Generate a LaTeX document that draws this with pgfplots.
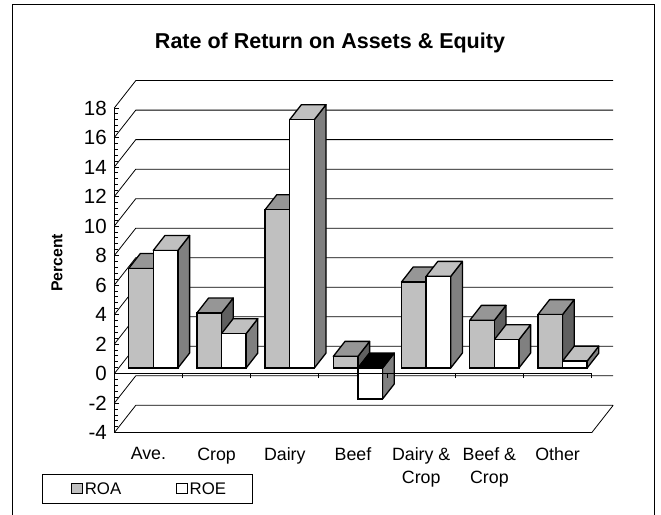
\documentclass[border=0pt]{standalone}
\usepackage{pgfplots}
\pgfplotsset{compat=1.18}
\usepackage{fontspec}
\setmainfont{Liberation Sans}
\definecolor{barg}{HTML}{C0C0C0}
\definecolor{topg}{HTML}{969696}
\definecolor{sideg}{HTML}{606060}
\definecolor{sidew}{HTML}{808080}
% depth faces of one 3D bar: left edge, value, side colour, top colour
\newcommand\barfaces[4]{%
  \pgfmathsetmacro\xl{#1}\pgfmathsetmacro\xr{#1+0.3607}%
  \pgfmathsetmacro\xlb{#1+0.1716}\pgfmathsetmacro\xrb{#1+0.3607+0.1716}%
  \pgfmathsetmacro\yhi{max(#2,0)+0.38}\pgfmathsetmacro\ylo{min(#2,0)+0.38}%
  \pgfmathsetmacro\yhib{\yhi+1.016}\pgfmathsetmacro\ylob{\ylo+1.016}%
  \addplot[fill=#3,draw=black,line width=1.3bp,line join=round,forget plot] coordinates {(\xr,\ylo)(\xrb,\ylob)(\xrb,\yhib)(\xr,\yhi)} --cycle;
  \addplot[fill=#4,draw=black,line width=1.3bp,line join=round,forget plot] coordinates {(\xl,\yhi)(\xr,\yhi)(\xrb,\yhib)(\xlb,\yhib)} --cycle;
}
\begin{document}
\begin{tikzpicture}[x=1bp,y=1bp]
\useasboundingbox (0,0) rectangle (661,515);
\draw[black,line width=1bp] (12.7,0) -- (12.7,510) -- (654,510) -- (654,0);
\begin{axis}[
  at={(114.3bp,82.3bp)},anchor=south west,
  scale only axis,width=477.4bp,height=324.7bp,
  xmin=0,xmax=7,ymin=-4,ymax=18,clip=false,
  axis x line*=bottom,axis y line*=left,
  axis line style={line width=1bp},
  every tick/.style={black,line width=0.9bp},
  xtick={0.5,1.5,2.5,3.5,4.5,5.5,6.5},
  xticklabels={Ave.,Crop,Dairy,Beef,{Dairy \&\\Crop},{Beef \&\\Crop},Other},
  xtick style={draw=none},
  minor xtick={0,1,2,3,4,5,6,7},
  xticklabel style={align=center,font=\fontsize{17.8bp}{23bp}\selectfont,yshift=-11.5bp},
  ytick={-4,-2,0,2,4,6,8,10,12,14,16,18},
  minor y tick num=4,
  major tick length=5bp,minor tick length=4bp,
  yticklabel style={font=\fontsize{20.5bp}{22bp}\selectfont,xshift=-4bp},
  /pgf/number format/assume math mode=true,
  title={Rate of Return on Assets \& Equity},
  title style={at={(axis description cs:0.4518,1.1814)},anchor=center,font=\fontsize{21.5bp}{24bp}\selectfont\bfseries},
  ylabel={Percent},
  ylabel style={at={(axis description cs:-0.12,0.5226)},anchor=center,font=\fontsize{15.8bp}{18bp}\selectfont\bfseries},
  unbounded coords=jump,
  legend style={at={(axis description cs:-0.1508,-0.1272)},anchor=north west,
    draw=black,line width=1bp,inner xsep=24bp,inner ysep=6bp,
    font=\fontsize{16.8bp}{18bp}\selectfont,
    /tikz/every even column/.append style={column sep=48.5bp}},
  legend columns=2,
]
% back wall and left wall lines
\addplot[black,line width=0.8bp,forget plot] coordinates {
 (0,-4)(0.315,-2.144)(7.315,-2.144)(0,nan)
 (0,-2)(0.315,-0.144)(7.315,-0.144)(0,nan)
 (0,0)(0.315,1.856)(7.315,1.856)(0,nan)
 (0,2)(0.315,3.856)(7.315,3.856)(0,nan)
 (0,4)(0.315,5.856)(7.315,5.856)(0,nan)
 (0,6)(0.315,7.856)(7.315,7.856)(0,nan)
 (0,8)(0.315,9.856)(7.315,9.856)(0,nan)
 (0,10)(0.315,11.856)(7.315,11.856)(0,nan)
 (0,12)(0.315,13.856)(7.315,13.856)(0,nan)
 (0,14)(0.315,15.856)(7.315,15.856)(0,nan)
 (0,16)(0.315,17.856)(7.315,17.856)(0,nan)
 (0,18)(0.315,19.856)(7.315,19.856)(0,nan)
 (7,-4)(7.315,-2.144)
};
% depth faces, category by category
\barfaces{0.2111}{6.75}{sideg}{topg}
\barfaces{0.5718}{7.97}{sidew}{barg}
\barfaces{1.2111}{3.73}{sideg}{topg}
\barfaces{1.5718}{2.33}{sidew}{barg}
\barfaces{2.2111}{10.73}{sideg}{topg}
\barfaces{2.5718}{16.83}{sidew}{barg}
\barfaces{3.2111}{0.79}{sideg}{topg}
\barfaces{3.5718}{-2.1}{sidew}{black}
\barfaces{4.2111}{5.83}{sideg}{topg}
\barfaces{4.5718}{6.21}{sidew}{barg}
\barfaces{5.2111}{3.23}{sideg}{topg}
\barfaces{5.5718}{1.92}{sidew}{barg}
\barfaces{6.2111}{3.62}{sideg}{topg}
\barfaces{6.5718}{0.47}{sidew}{barg}
% front faces
\addplot[ybar,bar width=0.3607,bar shift=-0.18035,fill=barg,draw=black,line width=1.3bp,xshift=4.9bp,yshift=5.6bp,
  legend image code/.code={\path[draw=none,fill=none] (0bp,-5bp) rectangle (1bp,-5bp);\filldraw[fill=barg,draw=black,line width=1bp] (4.5bp,-10bp) rectangle (15.5bp,0bp);}]
  coordinates {(0.5,6.75)(1.5,3.73)(2.5,10.73)(3.5,0.79)(4.5,5.83)(5.5,3.23)(6.5,3.62)};
\addplot[ybar,bar width=0.3607,bar shift=0.18035,fill=white,draw=black,line width=1.3bp,xshift=4.9bp,yshift=5.6bp,
  legend image code/.code={\path[draw=none,fill=none] (0bp,-5bp) rectangle (1bp,-5bp);\filldraw[fill=white,draw=black,line width=1bp] (4.5bp,-10bp) rectangle (15.5bp,0bp);}]
  coordinates {(0.5,7.97)(1.5,2.33)(2.5,16.83)(3.5,-2.1)(4.5,6.21)(5.5,1.92)(6.5,0.47)};
\legend{ROA,ROE}
% category axis at zero, over the bars
\addplot[black,line width=1.1bp,forget plot] coordinates {(0,0)(7,0)};
\addplot[black,line width=0.9bp,forget plot] coordinates {
 (1,0)(1,-0.32)(0,nan)(2,0)(2,-0.32)(0,nan)(3,0)(3,-0.32)(0,nan)(4,0)(4,-0.32)(0,nan)
 (5,0)(5,-0.32)(0,nan)(6,0)(6,-0.32)(0,nan)(7,0)(7,-0.32)};
\end{axis}
\end{tikzpicture}
\end{document}
